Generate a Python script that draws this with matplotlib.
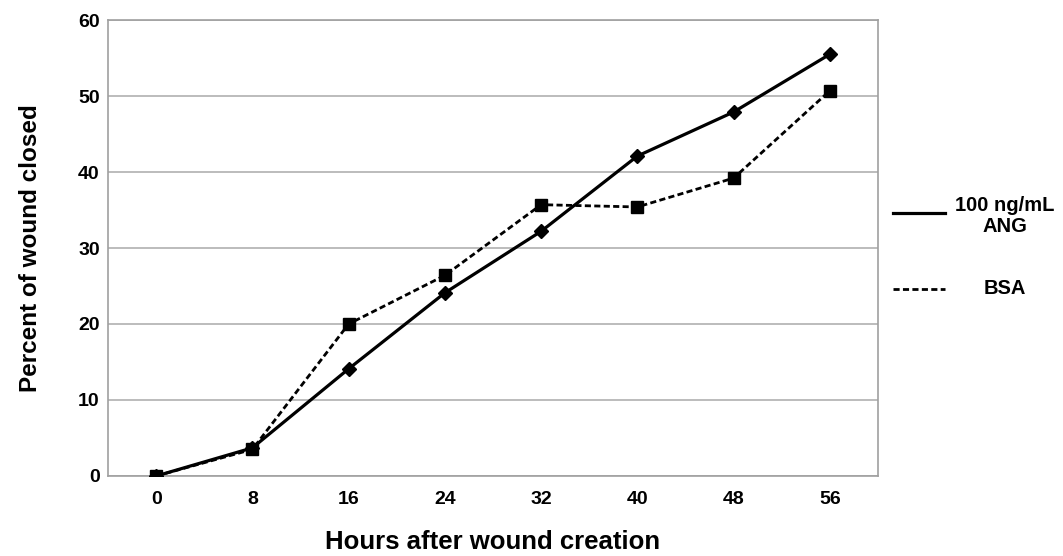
import numpy as np
import matplotlib.pyplot as plt
from matplotlib.lines import Line2D

hours = [0, 8, 16, 24, 32, 40, 48, 56]
ang = [0, 3.7, 14.1, 24.1, 32.2, 42.1, 47.9, 55.5]
bsa = [0, 3.5, 20.0, 26.4, 35.7, 35.4, 39.2, 50.7]

plt.rcParams['font.family'] = ['Liberation Sans', 'DejaVu Sans']
plt.rcParams['font.weight'] = 'bold'

fig = plt.figure(figsize=(10.63, 5.56), dpi=100)
ax = fig.add_axes([0.1016, 0.1439, 0.7244, 0.8201])

x = np.arange(len(hours))
ax.plot(x, ang, color='black', lw=2.3, marker='D', ms=7, zorder=3)
ax.plot(x, bsa, color='black', lw=2.0, ls=(0, (2.2, 1.2)), marker='s', ms=9, zorder=3)

ax.set_xlim(-0.5, len(hours) - 0.5)
ax.set_ylim(0, 60)
ax.set_yticks(range(0, 61, 10))
ax.set_xticks(x)
ax.set_xticklabels([str(h) for h in hours])
ax.tick_params(length=0, labelsize=14)
ax.tick_params(axis='x', pad=11)
ax.tick_params(axis='y', pad=6)
for lab in ax.get_xticklabels() + ax.get_yticklabels():
    lab.set_fontweight('bold')
ax.yaxis.grid(True, color='#b0b0b0', lw=1.2)
ax.set_axisbelow(True)
for s in ax.spines.values():
    s.set_color('#a0a0a0')
    s.set_linewidth(1.2)

ax.set_ylabel('Percent of wound closed', fontsize=17.5, fontweight='bold', labelpad=26)
ax.set_xlabel('Hours after wound creation', fontsize=18.5, fontweight='bold', labelpad=16)

# legend drawn by hand in figure coords
fig.add_artist(Line2D([893/1063, 945/1063], [1 - 213/556, 1 - 213/556], color='black', lw=2.3))
fig.add_artist(Line2D([893/1063, 945/1063], [1 - 289/556, 1 - 289/556], color='black', lw=2.0, ls=(0, (2.2, 1.2))))
fig.text(1005/1063, 1 - 216/556, '100 ng/mL\nANG', ha='center', va='center', fontsize=14.5, fontweight='bold', linespacing=1.1)
fig.text(1005/1063, 1 - 289/556, 'BSA', ha='center', va='center', fontsize=14.5, fontweight='bold')

fig.savefig('out.png', dpi=100)
